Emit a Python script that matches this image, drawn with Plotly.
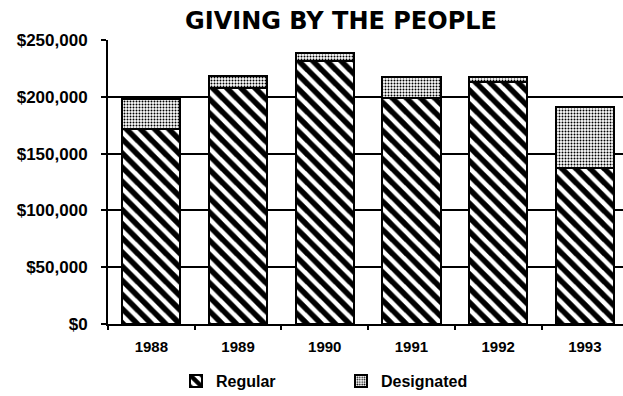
import plotly.graph_objects as go

# Annual giving, split into regular and designated gifts
years = ["1988", "1989", "1990", "1991", "1992", "1993"]
regular = [171500, 207500, 231500, 199000, 213000, 137000]
designated = [27000, 10500, 7000, 18500, 4500, 54000]

y_tick_values = [0, 50000, 100000, 150000, 200000, 250000]
y_tick_labels = ["$0", "$50,000", "$100,000", "$150,000", "$200,000", "$250,000"]

label_font = dict(family="Arial", size=15, color="black", weight="bold")

fig = go.Figure()
fig.add_trace(go.Bar(
    x=years, y=regular, name="Regular",
    marker=dict(
        color="white",
        line=dict(color="black", width=2),
        pattern=dict(shape="\\", size=10, solidity=0.55,
                     fgcolor="black", bgcolor="white", fgopacity=1,
                     fillmode="replace"),
    ),
))
fig.add_trace(go.Bar(
    x=years, y=designated, name="Designated",
    marker=dict(
        color="white",
        line=dict(color="black", width=2),
        pattern=dict(shape=".", size=3, solidity=0.35,
                     fgcolor="black", bgcolor="white", fgopacity=1,
                     fillmode="replace"),
    ),
))

fig.update_layout(
    width=623, height=396,
    margin=dict(l=108, r=0, t=40, b=72),
    paper_bgcolor="white", plot_bgcolor="white",
    barmode="stack", bargap=0.33,
    title=dict(
        text="GIVING BY THE PEOPLE",
        x=341 / 623, xanchor="center", xref="container",
        y=1 - 21 / 396, yanchor="middle", yref="container",
        font=dict(family="DejaVu Sans", size=24, color="black", weight="bold"),
    ),
    showlegend=True,
    legend=dict(
        orientation="h", xref="container", yref="container",
        x=176 / 623, xanchor="left", y=1 - 381 / 396, yanchor="middle",
        font=dict(family="Arial", size=16, color="black", weight="bold"),
        entrywidth=120, entrywidthmode="pixels",
        itemwidth=30, traceorder="normal",
    ),
)

fig.update_xaxes(
    type="category", range=[-0.5, 5.44],
    showline=True, linecolor="black", linewidth=2,
    ticks="outside", tickson="boundaries", ticklen=4, tickwidth=1.5, tickcolor="black",
    tickfont=label_font, ticklabelstandoff=8,
    showgrid=False,
)
fig.update_yaxes(
    range=[0, 250000],
    tickvals=y_tick_values, ticktext=y_tick_labels,
    showline=True, linecolor="black", linewidth=2,
    ticks="outside", ticklen=5, tickwidth=1.5, tickcolor="black",
    tickfont=dict(family="Arial", size=17, color="black", weight="bold"),
    ticklabelstandoff=10,
    showgrid=True, gridcolor="black", gridwidth=1.5,
    zeroline=False,
)

fig.write_html("out.html")
